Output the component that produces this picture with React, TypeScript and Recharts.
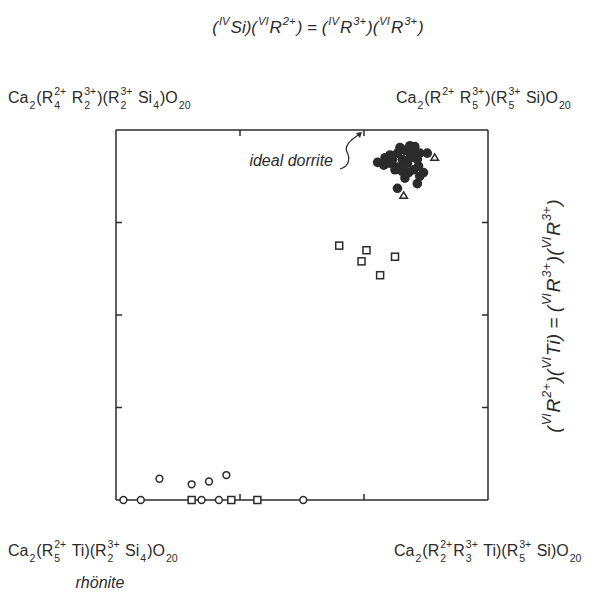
import React from "react";
import { ScatterChart, Scatter, XAxis, YAxis } from "recharts";

// x: (IVSi)(VIR2+) = (IVR3+)(VIR3+) substitution, y: (VIR2+)(VITi) = (VIR3+)(VIR3+)
const xTicks = [1, 2];
const yTicks = [1, 2, 3];

// dorrite analyses (filled dots)
const dorritePts: [number, number][] = [
  [2.11, 3.65], [2.21, 3.73], [2.27, 3.75], [2.33, 3.78], [2.41, 3.82],
  [2.45, 3.75], [2.51, 3.75], [2.21, 3.64], [2.27, 3.6], [2.31, 3.68],
  [2.35, 3.64], [2.37, 3.7], [2.4, 3.57], [2.36, 3.54], [2.31, 3.55],
  [2.25, 3.57], [2.48, 3.54], [2.43, 3.42], [2.27, 3.37], [2.33, 3.48],
  [2.39, 3.75], [2.43, 3.68], [2.17, 3.7], [2.29, 3.81], [2.37, 3.83],
  [2.44, 3.61], [2.16, 3.62], [2.32, 3.62], [2.23, 3.68], [2.45, 3.5],
];
const trianglePts: [number, number][] = [
  [2.57, 3.7], [2.32, 3.29],
];
const squarePts: [number, number][] = [
  [1.8, 2.75], [2.02, 2.7], [1.98, 2.58], [2.25, 2.63], [2.13, 2.43],
  [0.61, 0], [0.93, 0], [1.14, 0],
];
const circlePts: [number, number][] = [
  [0.35, 0.23], [0.61, 0.17], [0.75, 0.2], [0.89, 0.27],
  [0.06, 0], [0.2, 0], [0.69, 0], [0.83, 0], [1.51, 0],
];
// end members at the corners, only used to pin the top/right frame axes
const cornerPts: [number, number][] = [[0, 0], [3, 4]];

const toRows = (pts: [number, number][]) => pts.map(([x, y]) => ({ x, y }));

const INK = "#2b2b2b";
const FONT = "'Liberation Sans', Arial, sans-serif";

const Dot = (p: any) => <circle cx={p.cx} cy={p.cy} r={4.8} fill={INK} />;
const Ring = (p: any) => (
  <circle cx={p.cx} cy={p.cy} r={3.4} fill="#fff" stroke={INK} strokeWidth={1.5} />
);
const Box = (p: any) => (
  <rect x={p.cx - 3.5} y={p.cy - 3.5} width={7} height={7} fill="#fff" stroke={INK} strokeWidth={1.5} />
);
const Tri = (p: any) => (
  <path
    d={`M${p.cx},${p.cy - 3.8} L${p.cx + 3.8},${p.cy + 2.6} L${p.cx - 3.8},${p.cy + 2.6} Z`}
    fill="#fff"
    stroke={INK}
    strokeWidth={1.5}
  />
);
const Nothing = () => <g />;

let ctx: CanvasRenderingContext2D | null = null;
function measure(s: string, size: number, italic: boolean) {
  if (!ctx) ctx = document.createElement("canvas").getContext("2d");
  if (!ctx) return s.length * size * 0.55;
  ctx.font = `${italic ? "italic " : ""}${size}px ${FONT}`;
  return ctx.measureText(s).width;
}

type Tok = { t?: string; sup?: string; sub?: string };

function Formula({
  x, y, size, toks, italic = false, anchor = "start", rotate = 0,
}: {
  x: number; y: number; size: number; toks: Tok[]; italic?: boolean;
  anchor?: "start" | "middle" | "end"; rotate?: number;
}) {
  const small = size * 0.66;
  const parts: React.ReactNode[] = [];
  let cur = 0;
  toks.forEach((tk, i) => {
    if (tk.t) {
      const s = tk.t.replace(/ /g, "\u00a0");
      parts.push(
        <text key={i} x={cur} y={0} fontSize={size}>{s}</text>
      );
      cur += measure(s, size, italic);
    } else {
      const w1 = tk.sup ? measure(tk.sup, small, italic) : 0;
      const w2 = tk.sub ? measure(tk.sub, small, italic) : 0;
      if (tk.sup)
        parts.push(<text key={i + "u"} x={cur + 1} y={-size * 0.5} fontSize={small}>{tk.sup}</text>);
      if (tk.sub)
        parts.push(<text key={i + "d"} x={cur + 1} y={size * 0.38} fontSize={small}>{tk.sub}</text>);
      cur += Math.max(w1, w2) + 2;
    }
  });
  const off = anchor === "middle" ? -cur / 2 : anchor === "end" ? -cur : 0;
  return (
    <g
      transform={`translate(${x},${y}) rotate(${rotate}) translate(${off},0)`}
      fill={INK}
      fontFamily={FONT}
      fontStyle={italic ? "italic" : "normal"}
    >
      {parts}
    </g>
  );
}

const titleToks: Tok[] = [
  { t: "(" }, { sup: "IV" }, { t: "Si)(" }, { sup: "VI" }, { t: "R" }, { sup: "2+" },
  { t: ") = (" }, { sup: "IV" }, { t: "R" }, { sup: "3+" }, { t: ")(" }, { sup: "VI" },
  { t: "R" }, { sup: "3+" }, { t: ")" },
];
const sideToks: Tok[] = [
  { t: "(" }, { sup: "VI" }, { t: "R" }, { sup: "2+" }, { t: ")(" }, { sup: "VI" },
  { t: "Ti) = (" }, { sup: "VI" }, { t: "R" }, { sup: "3+" }, { t: ")(" }, { sup: "VI" },
  { t: "R" }, { sup: "3+" }, { t: ")" },
];
const topLeftToks: Tok[] = [
  { t: "Ca" }, { sub: "2" }, { t: "(R" }, { sup: "2+", sub: "4" }, { t: " R" },
  { sup: "3+", sub: "2" }, { t: ")(R" }, { sup: "3+", sub: "2" }, { t: " Si" },
  { sub: "4" }, { t: ")O" }, { sub: "20" },
];
const topRightToks: Tok[] = [
  { t: "Ca" }, { sub: "2" }, { t: "(R" }, { sup: "2+" }, { t: " R" },
  { sup: "3+", sub: "5" }, { t: ")(R" }, { sup: "3+", sub: "5" }, { t: " Si)O" },
  { sub: "20" },
];
const bottomLeftToks: Tok[] = [
  { t: "Ca" }, { sub: "2" }, { t: "(R" }, { sup: "2+", sub: "5" }, { t: " Ti)(R" },
  { sup: "3+", sub: "2" }, { t: " Si" }, { sub: "4" }, { t: ")O" }, { sub: "20" },
];
const bottomRightToks: Tok[] = [
  { t: "Ca" }, { sub: "2" }, { t: "(R" }, { sup: "2+", sub: "2" }, { t: "R" },
  { sup: "3+", sub: "3" }, { t: " Ti)(R" }, { sup: "3+", sub: "5" }, { t: " Si)O" },
  { sub: "20" },
];

export default function App() {
  const axisLine = { stroke: INK, strokeWidth: 1.5 };
  const tickLine = { stroke: INK, strokeWidth: 1.5 };
  const blank = () => "";
  return (
    <div style={{ position: "absolute", left: 0, top: 0, width: 607, height: 594, background: "#fff" }}>
      <ScatterChart
        width={607}
        height={594}
        margin={{ top: 129, right: 118, bottom: 93, left: 115 }}
      >
        <XAxis xAxisId="b" type="number" dataKey="x" domain={[0, 3]} ticks={xTicks}
          height={1} tickSize={-6} axisLine={axisLine} tickLine={tickLine}
          tickFormatter={blank} />
        <XAxis xAxisId="t" orientation="top" type="number" dataKey="x" domain={[0, 3]} ticks={xTicks}
          height={1} tickSize={-6} axisLine={axisLine} tickLine={tickLine}
          tickFormatter={blank} />
        <YAxis yAxisId="l" type="number" dataKey="y" domain={[0, 4]} ticks={yTicks}
          width={1} tickSize={-6} axisLine={axisLine} tickLine={tickLine}
          tickFormatter={blank} />
        <YAxis yAxisId="r" orientation="right" type="number" dataKey="y" domain={[0, 4]} ticks={yTicks}
          width={1} tickSize={-6} axisLine={axisLine} tickLine={tickLine}
          tickFormatter={blank} />
        <Scatter xAxisId="t" yAxisId="r" data={toRows(cornerPts)} shape={Nothing} isAnimationActive={false} />
        <Scatter xAxisId="b" yAxisId="l" data={toRows(circlePts)} shape={Ring} isAnimationActive={false} />
        <Scatter xAxisId="b" yAxisId="l" data={toRows(squarePts)} shape={Box} isAnimationActive={false} />
        <Scatter xAxisId="b" yAxisId="l" data={toRows(dorritePts)} shape={Dot} isAnimationActive={false} />
        <Scatter xAxisId="b" yAxisId="l" data={toRows(trianglePts)} shape={Tri} isAnimationActive={false} />
      </ScatterChart>
      <svg width={607} height={594} style={{ position: "absolute", left: 0, top: 0, pointerEvents: "none" }}>
        <Formula x={318} y={33} size={17} italic anchor="middle" toks={titleToks} />
        <Formula x={8} y={103} size={16} toks={topLeftToks} />
        <Formula x={396} y={103} size={16} toks={topRightToks} />
        <Formula x={8} y={556} size={16} toks={bottomLeftToks} />
        <Formula x={394} y={556} size={16} toks={bottomRightToks} />
        <Formula x={560} y={316} size={19} italic anchor="middle" rotate={-90} toks={sideToks} />
        <Formula x={100} y={588} size={16} italic anchor="middle" toks={[{ t: "rhönite" }]} />
        <Formula x={333} y={166} size={16} italic anchor="end" toks={[{ t: "ideal dorrite" }]} />
        <path d="M340,169 C350,166 350,158 347,152 C344,146 350,140 360,134"
          fill="none" stroke={INK} strokeWidth={1.3} />
        <path d="M356,133 L362,132 L360,138 Z" fill={INK} />
      </svg>
    </div>
  );
}
